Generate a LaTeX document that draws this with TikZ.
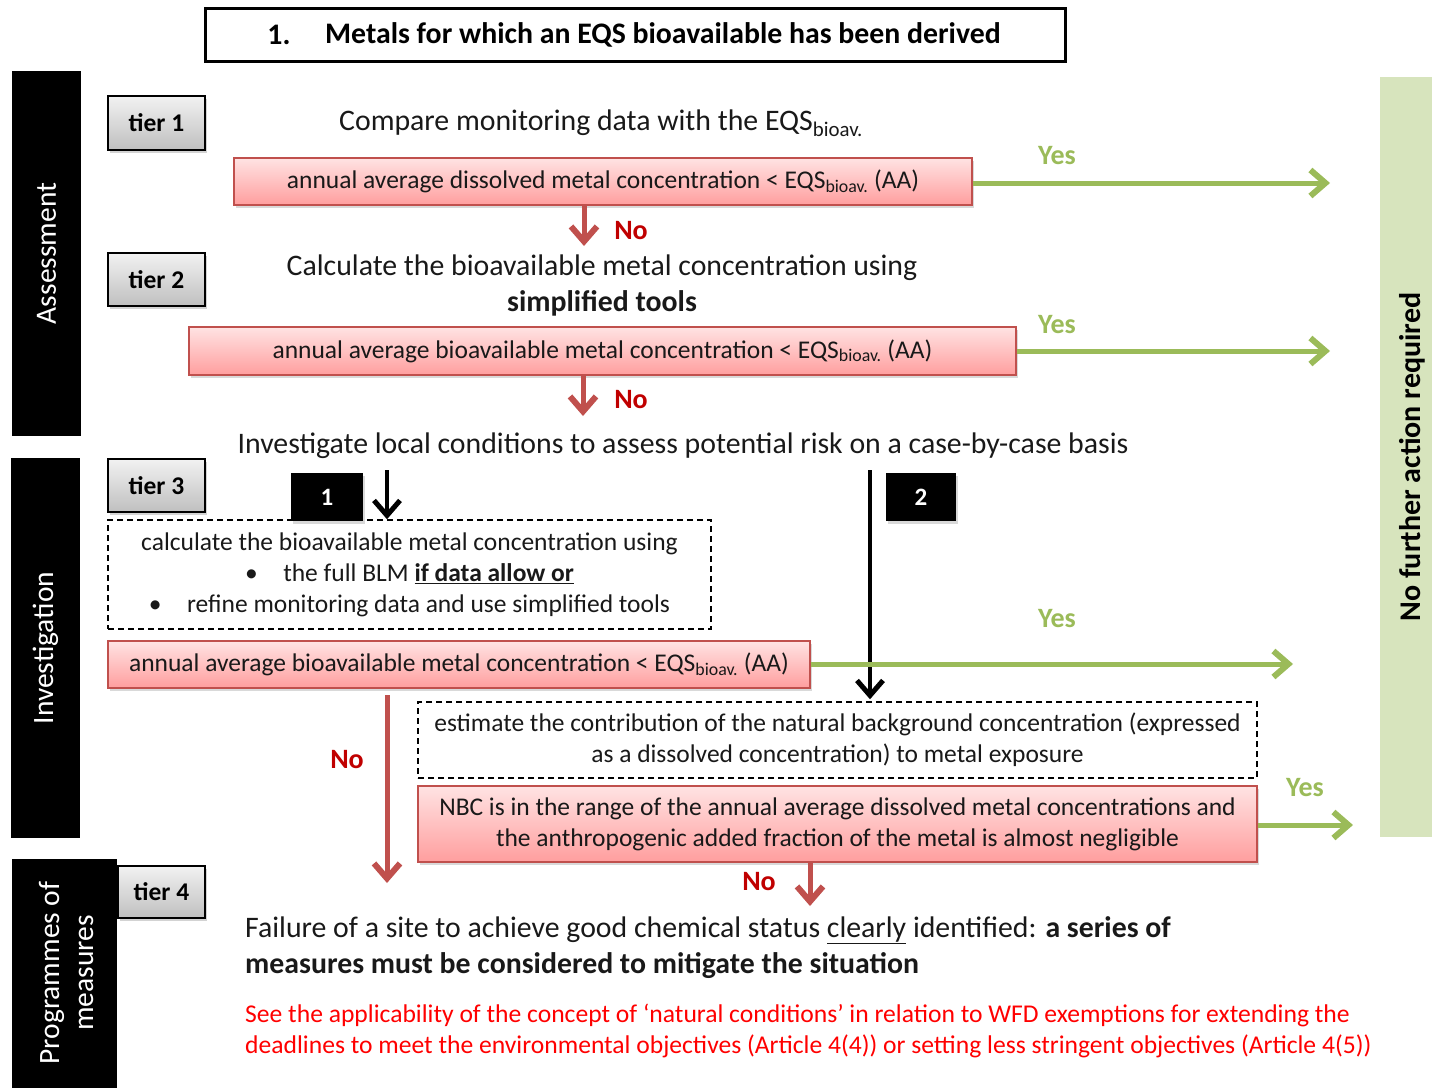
\documentclass[tikz,border=0pt]{standalone}
\usepackage{fontspec}
\setmainfont{Carlito}
\usetikzlibrary{arrows.meta,shadows,calc}
\definecolor{redline}{HTML}{C0504D}
\definecolor{notext}{HTML}{C00000}
\definecolor{greenline}{HTML}{9BBB59}
\definecolor{greenbar}{HTML}{D7E4BD}
\definecolor{redtop}{HTML}{FFE3E3}
\definecolor{redbot}{HTML}{FF9E9E}
\definecolor{graytop}{HTML}{F2F2F2}
\definecolor{graybot}{HTML}{BFBFBF}
\newcommand{\fs}[2]{\fontsize{#1}{#2}\selectfont}
\begin{document}
\begin{tikzpicture}[x=1pt,y=-1pt,
  redbox/.style={draw=redline, line width=1.5pt, top color=redtop, bottom color=redbot,
    drop shadow={opacity=0.3,shadow xshift=2pt,shadow yshift=-3pt}, inner sep=0pt,
    align=center, font=\fs{25.5}{31}, text=black!90},
  tierbox/.style={draw=black, line width=1.5pt, top color=graytop, bottom color=graybot,
    drop shadow={opacity=0.35,shadow xshift=2pt,shadow yshift=-3pt}, inner sep=0pt,
    font=\bfseries\fs{25.5}{30}},
  dashbox/.style={draw=black, dashed, dash pattern=on 6pt off 4pt, line width=1.5pt, fill=white,
    inner sep=0pt, align=center, font=\fs{25.5}{31}, text=black!90},
  sidebar/.style={fill=black, inner sep=0pt},
  sidetext/.style={rotate=90, text=white, font=\fs{29.5}{34}, align=center},
  numbox/.style={fill=black, text=white, inner sep=0pt, font=\bfseries\fs{25}{30},
    drop shadow={opacity=0.3,shadow xshift=2pt,shadow yshift=-3pt}},
  plain/.style={inner sep=0pt, font=\fs{29.8}{35}, text=black!90},
  yeslbl/.style={inner sep=0pt, font=\bfseries\fs{28}{32}, text=greenline},
  nolbl/.style={inner sep=0pt, font=\bfseries\fs{28}{32}, text=notext},
  redarrow/.style={draw=redline, line width=5pt, -{Straight Barb[length=15pt,width=26pt,line width'=6pt]}},
  greenarrow/.style={draw=greenline, line width=5pt, -{Straight Barb[length=15pt,width=26pt,line width'=6pt]}},
  blackarrow/.style={draw=black, line width=4pt, -{Straight Barb[length=15pt,width=26pt,line width'=5pt]}},
  notetext/.style={inner sep=0pt, font=\fs{25.6}{30}, text=red, anchor=west}
  ]
\useasboundingbox (0,0) rectangle (1432,1088);

% title
\node[draw=black, line width=3pt, minimum width=860pt, minimum height=53pt, inner sep=0pt] (title) at (635,34.5) {};
\node[inner sep=0pt, font=\bfseries\fs{29.8}{35}] (tnum) at (279,35) {1.};
\node[inner sep=0pt, font=\bfseries\fs{29.8}{35}, anchor=west] (ttext) at (325,35) {Metals for which an EQS bioavailable has been derived};

% side bars
\node[sidebar, minimum width=69pt, minimum height=365pt] (barA) at (46.5,253.5) {};
\node[sidetext] (barAt) at (barA) {Assessment};
\node[sidebar, minimum width=69pt, minimum height=380pt] (barI) at (45.5,648) {};
\node[sidetext] (barIt) at (barI) {Investigation};
\node[sidebar, minimum width=105pt, minimum height=229pt] (barP) at (64.5,973.5) {};
\node[sidetext] (barPt) at (66,973) {Programmes of\\ measures};
\node[fill=greenbar, minimum width=52pt, minimum height=760pt, inner sep=0pt] (barG) at (1406,457) {};
\node[rotate=90, inner sep=0pt, font=\bfseries\fs{30}{34}] (barGt) at (1412,457) {No further action required};

% tiers
\node[tierbox, minimum width=97pt, minimum height=54pt] (t1) at (156.5,123) {tier 1};
\node[tierbox, minimum width=97pt, minimum height=53pt] (t2) at (156.5,279.5) {tier 2};
\node[tierbox, minimum width=97pt, minimum height=53pt] (t3) at (156.5,485.5) {tier 3};
\node[tierbox, minimum width=87pt, minimum height=52pt] (t4) at (161.5,892) {tier 4};

% tier 1
\node[plain] (cmp) at (601,123) {Compare monitoring data with the EQS\textsubscript{bioav.}};
\node[redbox, minimum width=738pt, minimum height=47pt] (r1) at (603,181.5) {annual average dissolved metal concentration < EQS\textsubscript{bioav.} (AA)};

% tier 2
\node[plain] (calc1) at (602,268) {Calculate the bioavailable metal concentration using};
\node[plain, font=\bfseries\fs{29.8}{35}] (calc2) at (602,303) {simplified tools};
\node[redbox, minimum width=827pt, minimum height=48pt] (r2) at (602.5,351) {annual average bioavailable metal concentration < EQS\textsubscript{bioav.} (AA)};

\node[plain] (inv) at (683,446) {Investigate local conditions to assess potential risk on a case-by-case basis};

% tier 3
\node[dashbox, minimum width=603pt, minimum height=109pt] (d1) at (409.5,574.5) {calculate the bioavailable metal concentration using\\
\textbullet\quad the full BLM \textbf{\underline{if data allow or}}\\
\textbullet\quad refine monitoring data and use simplified tools};
\node[numbox, minimum width=72pt, minimum height=48pt] (n1) at (327,497) {1};
\node[numbox, minimum width=70pt, minimum height=48pt] (n2) at (921,497) {2};
\node[redbox, minimum width=702pt, minimum height=47pt] (r3) at (459,664.5) {annual average bioavailable metal concentration < EQS\textsubscript{bioav.} (AA)};
\node[dashbox, minimum width=839pt, minimum height=76pt] (d2) at (837.5,740) {estimate the contribution of the natural background concentration (expressed\\ as a dissolved concentration) to metal exposure};
\node[redbox, minimum width=839pt, minimum height=76pt] (r4) at (837.5,824) {NBC is in the range of the annual average dissolved metal concentrations and\\ the anthropogenic added fraction of the metal is almost negligible};

% tier 4 text
\node[plain, anchor=west] (f1) at (245,930) {Failure of a site to achieve good chemical status \underline{clearly} identified: \textbf{a series of}};
\node[plain, anchor=west, font=\bfseries\fs{29.8}{35}] (f2) at (245,966) {measures must be considered to mitigate the situation};
\node[notetext] (s1) at (245,1015) {See the applicability of the concept of ‘natural conditions’ in relation to WFD exemptions for extending the};
\node[notetext] (s2) at (245,1046) {deadlines to meet the environmental objectives (Article 4(4)) or setting less stringent objectives (Article 4(5))};

% coordinates
\coordinate (e1) at (584,246);
\coordinate (e2) at (583,416);
\coordinate (e3) at (387,883);
\coordinate (e4) at (810,906);
\coordinate (s3) at (387,695);
\coordinate (k1) at (387,470);
\coordinate (k2) at (870,470);
\coordinate (g1) at (1330,183);
\coordinate (g2) at (1330,351);
\coordinate (g3) at (1293,664);
\coordinate (g4) at (1353,825);

% arrows
\draw[redarrow] (e1 |- r1.south) -- (e1);
\draw[redarrow] (e2 |- r2.south) -- (e2);
\draw[redarrow] (s3) -- (e3);
\draw[redarrow] (e4 |- r4.south) -- (e4);
\draw[blackarrow] (k1) -- (k1 |- d1.north);
\draw[blackarrow] (k2) -- ($(k2 |- d2.north)+(0,-2)$);
\draw[greenarrow] (r1.east |- g1) -- (g1);
\draw[greenarrow] (r2.east) -- (g2);
\draw[greenarrow] (r3.east |- g3) -- (g3);
\draw[greenarrow] (r4.east |- g4) -- (g4);

% labels
\node[yeslbl] (y1) at (1057,156) {Yes};
\node[yeslbl] (y2) at (1057,325) {Yes};
\node[yeslbl] (y3) at (1057,619) {Yes};
\node[yeslbl] (y4) at (1305,788) {Yes};
\node[nolbl] (no1) at (631,231) {No};
\node[nolbl] (no2) at (631,400) {No};
\node[nolbl] (no3) at (347,760) {No};
\node[nolbl] (no4) at (759,882) {No};
\end{tikzpicture}
\end{document}
